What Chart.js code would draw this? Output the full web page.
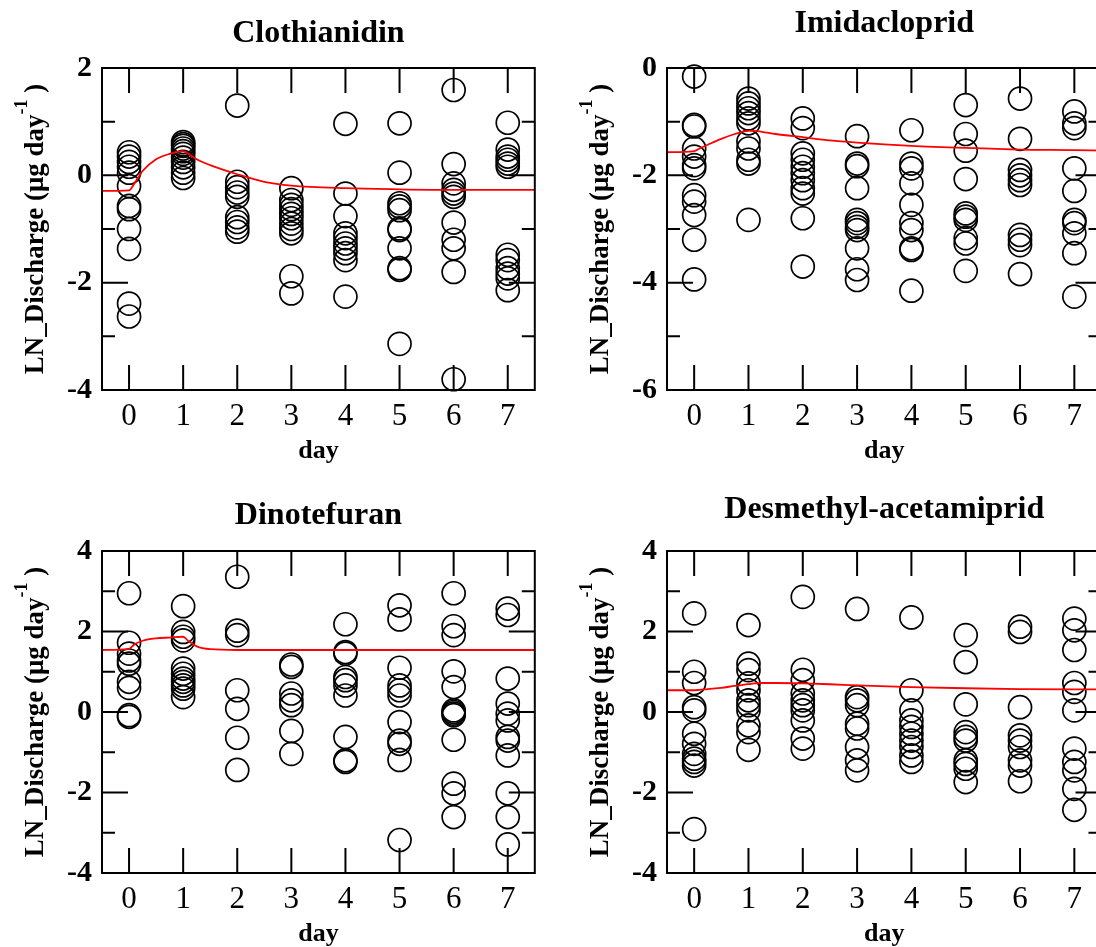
<!DOCTYPE html>
<html><head><meta charset="utf-8">
<script src="https://cdn.jsdelivr.net/npm/chart.js@4.4.1/dist/chart.umd.min.js"></script>
<style>
html,body{margin:0;padding:0;background:#fff;overflow:hidden;width:1096px;height:947px;position:relative;}
canvas{position:absolute;}
</style></head><body>
<canvas id="c1" width="548" height="468" style="left:0;top:0"></canvas>
<canvas id="c2" width="560" height="468" style="left:560px;top:0"></canvas>
<canvas id="c3" width="548" height="468" style="left:0;top:483px"></canvas>
<canvas id="c4" width="560" height="468" style="left:560px;top:483px"></canvas>
<script>
// ---- data ----
const days = [0, 1, 2, 3, 4, 5, 6, 7];
const xTitle = 'day';
const yTitleMain = 'LN_Discharge (\u03bcg day';
const yTitleSup = '-1';
const yTitleEnd = ' )';
const panelTitles = ['Clothianidin', 'Imidacloprid', 'Dinotefuran', 'Desmethyl-acetamiprid'];

// observed values per day (index = day)
const clothianidinObs = [
  [0.43, 0.35, 0.25, 0.16, 0.05, -0.2, -0.57, -0.63, -1.0, -1.37, -2.39, -2.63],
  [0.62, 0.58, 0.55, 0.5, 0.45, 0.4, 0.33, 0.25, 0.15, 0.05, -0.05],
  [1.3, -0.12, -0.22, -0.32, -0.4, -0.78, -0.87, -0.97, -1.05],
  [-0.24, -0.46, -0.55, -0.63, -0.72, -0.8, -0.9, -1.0, -1.08, -1.88, -2.2],
  [0.96, -0.34, -0.76, -1.08, -1.17, -1.27, -1.36, -1.45, -1.58, -2.26],
  [0.97, 0.05, -0.52, -0.58, -0.65, -0.99, -1.02, -1.36, -1.73, -1.76, -3.14],
  [1.59, 0.21, -0.15, -0.27, -0.34, -0.4, -0.88, -1.2, -1.36, -1.8, -3.8],
  [0.98, 0.48, 0.35, 0.29, 0.22, 0.16, -1.48, -1.58, -1.73, -1.83, -1.92, -2.14]
];
const imidaclopridObs = [
  [-0.16, -1.06, -1.09, -1.5, -1.65, -1.81, -1.87, -2.37, -2.49, -2.74, -3.2, -3.94],
  [-0.57, -0.66, -0.75, -0.84, -0.94, -1.03, -1.37, -1.5, -1.71, -1.78, -2.83],
  [-0.94, -1.12, -1.59, -1.71, -1.84, -1.96, -2.09, -2.24, -2.34, -2.8, -3.7],
  [-1.27, -1.78, -1.83, -2.24, -2.83, -2.89, -2.96, -3.02, -3.36, -3.75, -3.95],
  [-1.16, -1.78, -1.87, -2.15, -2.55, -2.89, -3.02, -3.36, -3.39, -4.15],
  [-0.69, -1.23, -1.54, -2.07, -2.71, -2.77, -2.83, -3.17, -3.27, -3.78],
  [-0.57, -1.32, -1.9, -2.0, -2.09, -2.18, -3.11, -3.2, -3.3, -3.84],
  [-0.81, -1.03, -1.12, -1.87, -2.29, -2.83, -2.89, -3.08, -3.45, -4.26]
];
const dinotefuranObs = [
  [2.95, 1.72, 1.45, 1.28, 1.2, 0.75, 0.6, -0.08, -0.12],
  [2.63, 1.99, 1.87, 1.78, 1.08, 0.95, 0.83, 0.75, 0.66, 0.58, 0.37],
  [3.36, 2.02, 1.91, 0.54, 0.08, -0.64, -1.44],
  [1.18, 1.12, 0.46, 0.29, 0.17, -0.47, -1.04],
  [2.18, 1.49, 1.45, 0.87, 0.79, 0.66, 0.41, -0.62, -1.2, -1.24],
  [2.65, 2.3, 1.1, 0.66, 0.54, 0.41, -0.25, -0.71, -0.79, -1.19, -3.18],
  [2.95, 2.13, 1.91, 1.01, 0.62, 0.04, 0.0, -0.04, -0.08, -0.69, -1.78, -2.02, -2.61],
  [2.57, 2.41, 0.83, 0.21, -0.04, -0.21, -0.62, -0.71, -1.08, -2.02, -2.61, -3.29]
];
const desmethylObs = [
  [2.45, 1.0, 0.72, 0.12, 0.04, -0.54, -0.79, -1.04, -1.16, -1.24, -1.33, -2.91],
  [2.16, 1.2, 1.04, 0.71, 0.54, 0.29, 0.17, 0.04, -0.33, -0.5, -0.94],
  [2.86, 1.05, 0.79, 0.46, 0.29, 0.17, 0.04, -0.21, -0.66, -0.91],
  [2.56, 0.37, 0.29, 0.17, -0.29, -0.41, -0.87, -1.2, -1.45],
  [2.35, 0.54, 0.04, -0.21, -0.37, -0.54, -0.71, -0.87, -1.08, -1.24],
  [1.91, 1.24, 0.19, -0.5, -0.62, -0.71, -1.2, -1.29, -1.41, -1.74],
  [2.12, 1.99, 0.12, -0.58, -0.71, -0.87, -1.2, -1.33, -1.72],
  [2.32, 2.03, 1.54, 0.72, 0.5, 0.04, -0.91, -1.24, -1.45, -1.91, -2.43]
];

// fitted model curve (red line), read at these days
const fitDays = [-0.5, 0, 0.1, 0.25, 0.5, 0.75, 1, 1.1, 1.25, 1.5, 2, 2.5, 3, 4, 5, 6, 7, 7.5];
const clothianidinFit = [-0.29, -0.28, -0.15, 0.08, 0.3, 0.4, 0.45, 0.4, 0.3, 0.19, 0.02, -0.12, -0.19, -0.24, -0.26, -0.27, -0.27, -0.27];
const imidaclopridFit = [-1.57, -1.55, -1.5, -1.43, -1.32, -1.23, -1.17, -1.17, -1.19, -1.23, -1.29, -1.35, -1.39, -1.45, -1.49, -1.52, -1.53, -1.54];
const dinotefuranFit = [1.54, 1.57, 1.68, 1.77, 1.83, 1.85, 1.87, 1.76, 1.63, 1.56, 1.54, 1.54, 1.54, 1.54, 1.54, 1.54, 1.54, 1.54];
const desmethylFit = [0.54, 0.54, 0.55, 0.57, 0.6, 0.65, 0.69, 0.71, 0.72, 0.72, 0.71, 0.69, 0.66, 0.62, 0.59, 0.57, 0.56, 0.56];

// y-axis ranges
const yRanges = [[-4, 2], [-6, 0], [-4, 4], [-4, 4]];

// ---- helpers ----
const FONT = '"Liberation Serif", "Times New Roman", serif';
function scatterPoints(obs) {
  const pts = [];
  obs.forEach((vals, i) => vals.forEach(v => pts.push({x: days[i], y: v})));
  return pts;
}
function fitPoints(vals) { return fitDays.map((d, i) => ({x: d, y: vals[i]})); }

const frameTicks = {
  id: 'frameTicks',
  afterDatasetsDraw(chart) {
    const {ctx, chartArea: a, scales: {x, y}} = chart;
    ctx.save();
    ctx.strokeStyle = '#000';
    ctx.lineWidth = 2;
    ctx.beginPath();
    x.ticks.forEach(t => {
      const px = x.getPixelForValue(t.value);
      ctx.moveTo(px, a.bottom); ctx.lineTo(px, a.bottom - 25);
      ctx.moveTo(px, a.top); ctx.lineTo(px, a.top + 25);
    });
    y.ticks.forEach(t => {
      const py = y.getPixelForValue(t.value);
      const len = (Math.round(t.value) % 2 === 0) ? 26 : 13;
      ctx.moveTo(a.left, py); ctx.lineTo(a.left + len, py);
      ctx.moveTo(a.right, py); ctx.lineTo(a.right - len, py);
    });
    ctx.stroke();
    ctx.strokeRect(a.left, a.top, a.right - a.left, a.bottom - a.top);
    ctx.restore();
  }
};

const yTitle = {
  id: 'yTitle',
  afterDraw(chart) {
    const {ctx, chartArea: a} = chart;
    const fMain = 'bold 27px ' + FONT, fSup = 'bold 18px ' + FONT;
    ctx.save();
    ctx.font = fMain;
    const w1 = ctx.measureText(yTitleMain).width;
    const w3 = ctx.measureText(yTitleEnd).width;
    ctx.font = fSup;
    const w2 = ctx.measureText(yTitleSup).width;
    const total = w1 + w2 + w3;
    ctx.translate(a.left - 59, (a.top + a.bottom) / 2);
    ctx.rotate(-Math.PI / 2);
    ctx.textBaseline = 'alphabetic';
    ctx.textAlign = 'left';
    ctx.fillStyle = '#000';
    let xx = -total / 2;
    ctx.font = fMain; ctx.fillText(yTitleMain, xx, 0); xx += w1;
    ctx.font = fSup; ctx.fillText(yTitleSup, xx, -16); xx += w2;
    ctx.font = fMain; ctx.fillText(yTitleEnd, xx, 0);
    ctx.restore();
  }
};

function makeChart(id, title, obs, fit, range, opt) {
  return new Chart(document.getElementById(id), {
    type: 'scatter',
    data: {datasets: [
      {type: 'line', data: fitPoints(fit), borderColor: '#ff0000', borderWidth: 1.8,
       pointRadius: 0, cubicInterpolationMode: 'monotone', fill: false, order: 0, clip: false},
      {type: 'scatter', data: scatterPoints(obs), pointStyle: 'circle', pointRadius: 11.5,
       pointBorderWidth: 1.7, pointBorderColor: '#000', pointBackgroundColor: 'rgba(0,0,0,0)',
       borderColor: '#000', backgroundColor: 'rgba(0,0,0,0)', order: 1, clip: false}
    ]},
    options: {
      responsive: false, animation: false, events: [],
      layout: {padding: {left: 0, right: opt.padRight, top: 0, bottom: 0}},
      plugins: {
        legend: {display: false}, tooltip: {enabled: false},
        title: {display: true, text: title, fullSize: false, color: '#000',
          font: {family: FONT, size: 32, weight: 'bold', lineHeight: 1.2},
          padding: {top: opt.titleTop, bottom: 29.6 - opt.titleTop}}
      },
      scales: {
        x: {type: 'linear', min: -0.5, max: 7.5,
          grid: {display: false, drawTicks: false}, border: {display: false},
          afterBuildTicks(s) { s.ticks = days.map(d => ({value: d})); },
          ticks: {autoSkip: false, maxRotation: 0, minRotation: 0,
            padding: 8, color: '#000', font: {family: FONT, size: 31, weight: 'normal'}},
          title: {display: true, text: xTitle, color: '#000',
            font: {family: FONT, size: 26, weight: 'bold', lineHeight: 1.2}, padding: {top: 0, bottom: 1}},
          afterFit(s) { s.height = 78; }},
        y: {type: 'linear', min: range[0], max: range[1],
          grid: {display: false, drawTicks: false}, border: {display: false},
          ticks: {stepSize: 1, autoSkip: false, padding: 10, color: '#000',
            font: {family: FONT, size: 30, weight: 'bold'},
            callback: v => (Math.round(v) % 2 === 0 ? String(v) : '')},
          afterFit(s) { s.width = opt.yWidth; }}
      }
    },
    plugins: [frameTicks, yTitle]
  });
}

makeChart('c1', panelTitles[0], clothianidinObs, clothianidinFit, yRanges[0], {yWidth: 102, padRight: 11, titleTop: 15});
makeChart('c2', panelTitles[1], imidaclopridObs, imidaclopridFit, yRanges[1], {yWidth: 107, padRight: 18.5, titleTop: 5});
makeChart('c3', panelTitles[2], dinotefuranObs, dinotefuranFit, yRanges[2], {yWidth: 102, padRight: 11, titleTop: 13.5});
makeChart('c4', panelTitles[3], desmethylObs, desmethylFit, yRanges[3], {yWidth: 107, padRight: 18.5, titleTop: 8});
</script>
</body></html>
